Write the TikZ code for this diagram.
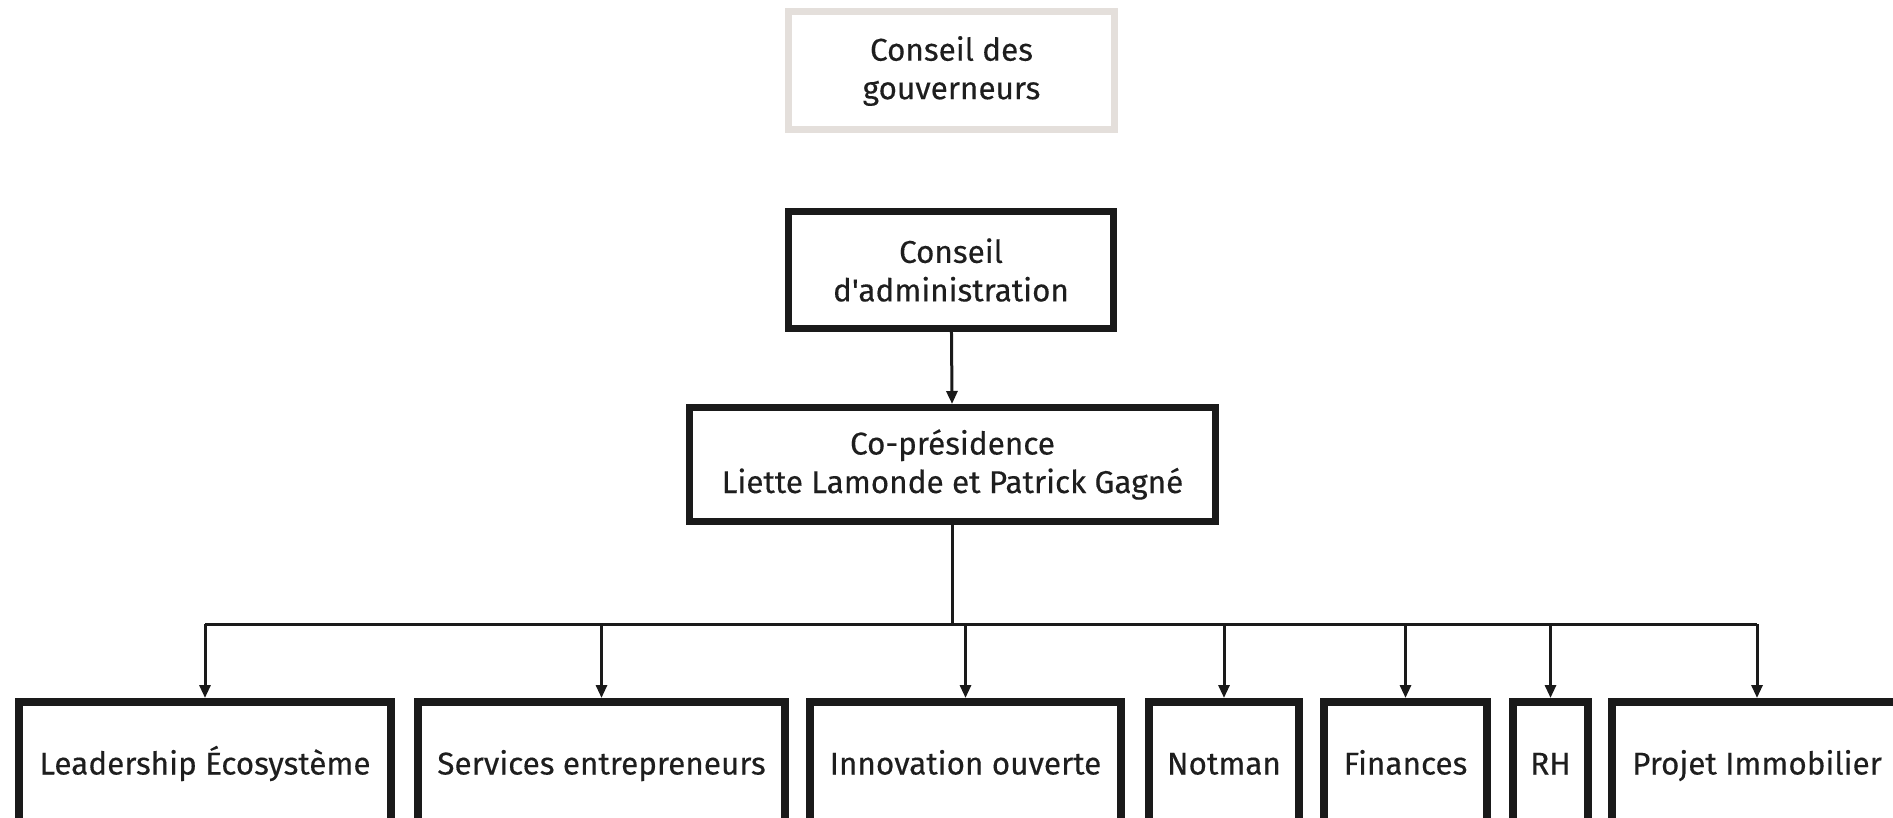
\documentclass[tikz,border=0pt]{standalone}
\usepackage{fontspec}
\setmainfont{Fira Sans}[FakeBold=0.3, Ligatures=TeXOff]
\usetikzlibrary{arrows.meta}
\definecolor{boxblack}{HTML}{1A1A1A}
\definecolor{govgray}{HTML}{E4DFDB}
\definecolor{textgray}{HTML}{1E1E1E}
\begin{document}
\begin{tikzpicture}[x=1pt,y=-1pt,
  box/.style={draw=boxblack, line width=7pt, fill=white, align=center,
    font=\fontsize{31.5}{38.5}\selectfont, inner sep=0pt, text=textgray},
  govbox/.style={box, draw=govgray},
  unitbox/.style={box, line width=8pt, minimum height=130pt, text height=22pt, text depth=7pt},
  conn/.style={draw=boxblack, line width=3pt},
  arr/.style={conn, -{Triangle[length=13pt,width=11pt]}}]
\useasboundingbox (0,0) rectangle (1893,818);
\clip (0,0) rectangle (1893,818);
\node[govbox, minimum width=326pt, minimum height=118pt] (gov) at (951.5,71) {Conseil des\\gouverneurs};
\node[box, minimum width=325pt, minimum height=117pt] (ca) at (951,270) {Conseil\\d'administration};
\node[box, minimum width=526pt, minimum height=114pt] (cp) at (952.5,464.5) {Co-présidence\\Liette Lamonde et Patrick Gagné};
\node[unitbox, minimum width=372pt] (u1) at (205,767) {Leadership Écosystème};
\node[unitbox, minimum width=367pt] (u2) at (601.5,767) {Services entrepreneurs};
\node[unitbox, minimum width=311pt] (u3) at (965.5,767) {Innovation ouverte};
\node[unitbox, minimum width=150pt] (u4) at (1224,767) {Notman};
\node[unitbox, minimum width=163pt] (u5) at (1405.5,767) {Finances};
\node[unitbox, minimum width=75pt] (u6) at (1550.5,767) {RH};
\node[unitbox, minimum width=290pt] (u7) at (1757,767) {Projet Immobilier};
\coordinate (bus) at (cp.south |- 0,624);
\coordinate (busl) at (u1.north |- 0,624);
\coordinate (busr) at (u7.north |- 0,624);
\draw[arr] (ca) -- (cp);
\draw[conn] (cp.south) -- (bus);
\draw[conn] (busl) -- (busr);
\foreach \u in {u1,u2,u3,u4,u5,u6,u7}{
  \draw[arr] (\u.north |- busl) -- (\u.north);
}
\end{tikzpicture}
\end{document}
